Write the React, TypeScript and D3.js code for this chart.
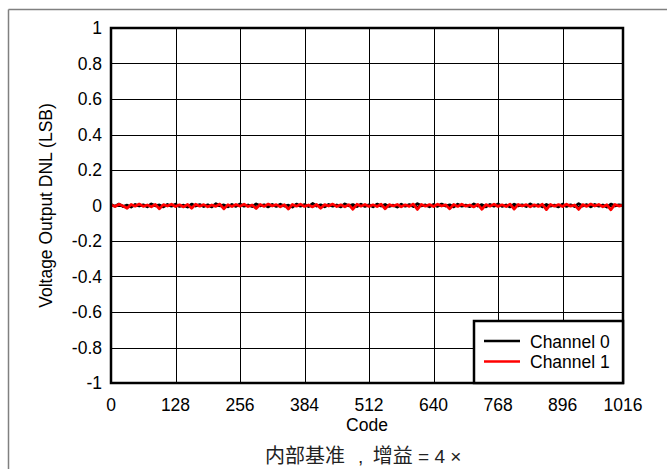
import React from "react";
import * as d3 from "d3";

const xTicks = [0, 128, 256, 384, 512, 640, 768, 896, 1016];
const yTicks = [-1, -0.8, -0.6, -0.4, -0.2, 0, 0.2, 0.4, 0.6, 0.8, 1];
const seriesNames = ["Channel 0", "Channel 1"];
const seriesColors = ["#000000", "#ff0000"];
const codeStep = 8;

const channel0 = [
  0.005, -0.004, 0.008, -0.006, 0.002, -0.009, 0.006, -0.003, 0.004, -0.007, 0.009, -0.002, 0.003, -0.008, 0.006, -0.004,
  0.007, -0.005, 0.002, -0.009, 0.008, -0.003, 0.005, -0.006, 0.004, -0.008, 0.010, -0.002, 0.003, -0.007, 0.006, -0.005,
  0.008, -0.004, 0.003, -0.006, 0.009, -0.002, 0.004, -0.008, 0.006, -0.005, 0.007, -0.003, 0.002, -0.009, 0.008, -0.004,
  0.005, -0.006, 0.011, -0.003, 0.004, -0.007, 0.006, -0.004, 0.003, -0.008, 0.009, -0.002, 0.005, -0.006, 0.007, -0.005,
  0.004, -0.007, 0.008, -0.003, 0.006, -0.005, 0.002, -0.009, 0.007, -0.004, 0.005, -0.006, 0.010, -0.002, 0.003, -0.007,
  0.006, -0.005, 0.008, -0.003, 0.004, -0.008, 0.007, -0.004, 0.002, -0.006, 0.009, -0.003, 0.005, -0.007, 0.006, -0.004,
  0.008, -0.005, 0.003, -0.008, 0.007, -0.002, 0.004, -0.006, 0.009, -0.004, 0.005, -0.007, 0.006, -0.003, 0.002, -0.008,
  0.007, -0.005, 0.004, -0.006, 0.010, -0.003, 0.005, -0.007, 0.006, -0.004, 0.003, -0.009, 0.008, -0.002, 0.004, 0.001,
];

const channel1 = [
  0.004, -0.006, 0.007, -0.003, -0.016, 0.006, -0.004, 0.008, -0.005, 0.003, -0.007, 0.006, -0.018, 0.005, -0.003, 0.007,
  -0.006, 0.004, -0.008, 0.006, -0.015, 0.007, -0.004, 0.005, -0.007, 0.003, -0.005, 0.008, -0.019, 0.004, -0.006, 0.006,
  -0.004, 0.007, -0.006, 0.003, -0.017, 0.006, -0.005, 0.008, -0.003, 0.005, -0.007, 0.004, -0.020, 0.006, -0.004, 0.007,
  -0.005, 0.003, -0.008, 0.006, -0.016, 0.005, -0.003, 0.008, -0.006, 0.004, -0.007, 0.005, -0.021, 0.007, -0.004, 0.006,
  -0.005, 0.004, -0.006, 0.007, -0.018, 0.005, -0.003, 0.006, -0.007, 0.004, -0.005, 0.008, -0.022, 0.006, -0.004, 0.005,
  -0.006, 0.007, -0.003, 0.004, -0.019, 0.006, -0.005, 0.007, -0.004, 0.003, -0.008, 0.006, -0.021, 0.005, -0.004, 0.007,
  -0.005, 0.004, -0.006, 0.008, -0.020, 0.006, -0.003, 0.005, -0.007, 0.004, -0.005, 0.007, -0.023, 0.006, -0.004, 0.005,
  -0.006, 0.007, -0.004, 0.003, -0.022, 0.005, -0.005, 0.008, -0.003, 0.006, -0.007, 0.004, -0.024, 0.006, -0.003, 0.002,
];

const W = 667;
const H = 469;
const M = { left: 111, right: 623, top: 28, bottom: 383 };

export default function App() {
  const x = d3.scaleLinear().domain([0, 1016]).range([M.left, M.right]);
  const y = d3.scaleLinear().domain([-1, 1]).range([M.bottom, M.top]);
  const line = d3
    .line<number>()
    .x((_, i) => x(Math.min(i * codeStep, 1016)))
    .y((d) => y(d));
  const series = [channel0, channel1];
  const font = "'Liberation Sans', Arial, sans-serif";
  const cjk = "'Noto Sans CJK SC', sans-serif";
  const fs = 17.5;
  const fmt = (v: number) => (v === 0 ? "0" : String(Math.round(v * 10) / 10));
  const legX = 474;
  const legY = 321;
  return (
    <svg width={W} height={H} style={{ position: "absolute", left: 0, top: 0, background: "#fff" }}>
      <rect x={0} y={0} width={W} height={H} fill="#fff" />
      {/* outer frame */}
      <line x1={8.5} x2={8.5} y1={9.5} y2={H} stroke="#808080" strokeWidth={1.5} />
      <line x1={8.5} x2={W} y1={9.5} y2={9.5} stroke="#808080" strokeWidth={1.5} />
      {/* grid */}
      {xTicks.slice(1, -1).map((t) => (
        <line key={"gx" + t} x1={Math.round(x(t)) + 0.5} x2={Math.round(x(t)) + 0.5} y1={M.top} y2={M.bottom} stroke="#000" strokeWidth={1} />
      ))}
      {yTicks.slice(1, -1).map((t) => (
        <line key={"gy" + t} x1={M.left} x2={M.right} y1={Math.round(y(t)) + 0.5} y2={Math.round(y(t)) + 0.5} stroke="#000" strokeWidth={1} />
      ))}
      {/* data */}
      {series.map((s, i) => (
        <path key={"s" + i} d={line(s) || ""} fill="none" stroke={seriesColors[i]} strokeWidth={2.8} strokeLinejoin="round" />
      ))}
      {/* plot border */}
      <rect x={M.left} y={M.top} width={M.right - M.left} height={M.bottom - M.top} fill="none" stroke="#000" strokeWidth={2.5} />
      {/* y tick labels */}
      {yTicks.map((t) => (
        <text key={"yl" + t} x={102} y={y(t) + 6} textAnchor="end" fontFamily={font} fontSize={fs} fill="#000">
          {fmt(t)}
        </text>
      ))}
      {/* x tick labels */}
      {xTicks.map((t) => (
        <text key={"xl" + t} x={x(t)} y={410.5} textAnchor="middle" fontFamily={font} fontSize={fs} fill="#000">
          {t}
        </text>
      ))}
      <text x={(M.left + M.right) / 2} y={431} textAnchor="middle" fontFamily={font} fontSize={fs} fill="#000">
        Code
      </text>
      <text
        transform={`translate(52, ${(M.top + M.bottom) / 2}) rotate(-90)`}
        textAnchor="middle"
        fontFamily={font}
        fontSize={fs}
        fill="#000"
      >
        Voltage Output DNL (LSB)
      </text>
      <text x={265} y={463} fontFamily={cjk} fontSize={20} fill="#222">
        内部基准
        <tspan dx={13} fontFamily={font} fontSize={19}>,</tspan>
        <tspan dx={9.5}>增益</tspan>
        <tspan fontFamily={font} fontSize={19}>{" = 4 ×"}</tspan>
      </text>
      {/* legend */}
      <rect x={legX} y={legY} width={M.right - legX} height={M.bottom - legY} fill="#fff" stroke="#000" strokeWidth={2.5} />
      {seriesNames.map((n, i) => (
        <g key={"lg" + i}>
          <line x1={484} x2={520} y1={341 + i * 20.5} y2={341 + i * 20.5} stroke={seriesColors[i]} strokeWidth={2.6} />
          <text x={530} y={347.5 + i * 20.5} fontFamily={font} fontSize={fs} fill="#000">
            {n}
          </text>
        </g>
      ))}
    </svg>
  );
}
